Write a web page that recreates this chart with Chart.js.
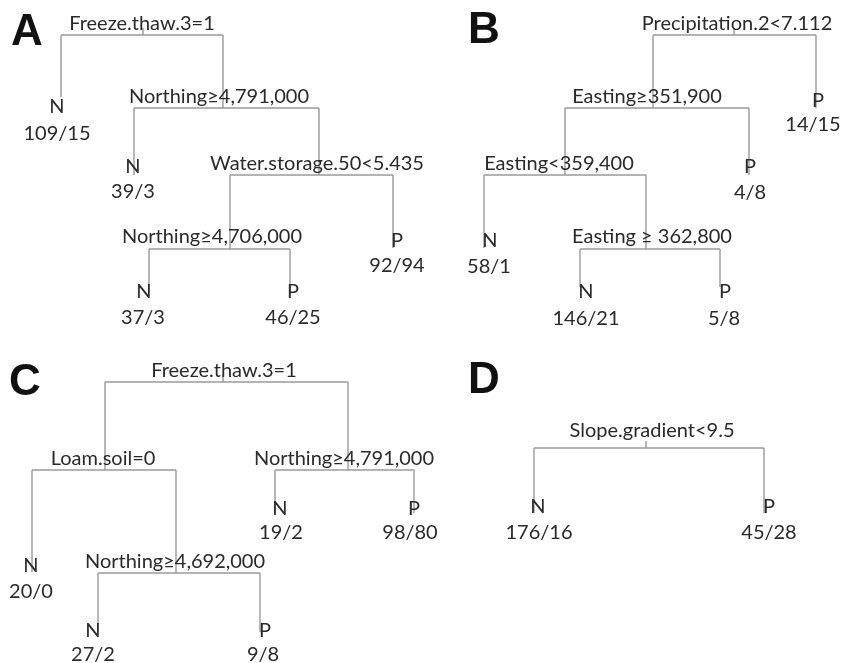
<!DOCTYPE html>
<html>
<head>
<meta charset="utf-8">
<script src="https://cdn.jsdelivr.net/npm/chart.js@4/dist/chart.umd.min.js"></script>
<style>
  html, body { margin: 0; padding: 0; background: #ffffff; }
  #wrap { width: 844px; height: 663px; }
</style>
</head>
<body>
<div id="wrap"><canvas id="c" width="844" height="663"></canvas></div>
<script>
// ---------------- DATA ----------------
const panelLetters = ['A', 'B', 'C', 'D'];

// Tree A
const splitsA = ['Freeze.thaw.3=1', 'Northing≥4,791,000', 'Water.storage.50<5.435', 'Northing≥4,706,000'];
const childrenA = [['l0', 's1'], ['l1', 's2'], ['s3', 'l4'], ['l2', 'l3']];
const leafClassA = ['N', 'N', 'N', 'P', 'P'];
const leafCountA = ['109/15', '39/3', '37/3', '46/25', '92/94'];

// Tree B
const splitsB = ['Precipitation.2<7.112', 'Easting≥351,900', 'Easting<359,400', 'Easting ≥ 362,800'];
const childrenB = [['s1', 'l4'], ['s2', 'l3'], ['l0', 's3'], ['l1', 'l2']];
const leafClassB = ['N', 'N', 'P', 'P', 'P'];
const leafCountB = ['58/1', '146/21', '5/8', '4/8', '14/15'];

// Tree C
const splitsC = ['Freeze.thaw.3=1', 'Loam.soil=0', 'Northing≥4,791,000', 'Northing≥4,692,000'];
const childrenC = [['s1', 's2'], ['l0', 's3'], ['l3', 'l4'], ['l1', 'l2']];
const leafClassC = ['N', 'N', 'P', 'N', 'P'];
const leafCountC = ['20/0', '27/2', '9/8', '19/2', '98/80'];

// Tree D
const splitsD = ['Slope.gradient<9.5'];
const childrenD = [['l0', 'l1']];
const leafClassD = ['N', 'P'];
const leafCountD = ['176/16', '45/28'];

// ---------------- LAYOUT (positions in canvas-sized data units) ----------------
// split: [labelX, labelBaseline, barY, leftX, rightX, stubX(root only)]
const splitPosA = [[142, 30, 35, 61, 223, 143], [219, 103, 108, 134, 319], [317, 170, 175, 230, 393], [212, 243, 249, 149, 290]];
const splitPosB = [[737, 30, 35, 653, 816, 734], [647, 103, 108, 565, 749], [559, 170, 175, 484, 646], [652, 243, 249, 580, 720]];
const splitPosC = [[224, 377, 382, 105, 348, 223], [103, 465, 470, 32, 176], [344, 465, 470, 275, 414], [175, 568, 573, 98, 260]];
const splitPosD = [[652, 437, 448, 534, 764, 646]];
// leaf: [lineEndY, classX, classBaseline, countX, countBaseline]
const leafPosA = [[97, 57, 113, 57, 140], [175, 133, 173, 133, 198], [293, 144, 298, 143, 324], [293, 293, 298, 293, 324], [248, 397, 247, 397, 272]];
const leafPosB = [[248, 490, 247, 489, 273], [287, 586, 298, 586, 325], [287, 725, 298, 724, 325], [175, 750, 173, 750, 199], [108, 818, 107, 813, 131]];
const leafPosC = [[572, 31, 572, 31, 598], [632, 93, 637, 93, 661], [632, 265, 637, 263, 661], [513, 280, 515, 281, 539], [513, 414, 515, 410, 539]];
const leafPosD = [[513, 538, 513, 539, 539], [513, 769, 513, 769, 539]];
// panel letter: [x, baseline]
const letterPos = [[11, 45], [468, 43], [9, 395], [468, 393]];

const LINE_COLOR = '#9a9a9a';
const TEXT_COLOR = '#2a2a2a';
const TREE_FONT = '20px Lato';
const LETTER_FONT = 'bold 44px "Liberation Sans"';

const trees = [
  { splits: splitsA, children: childrenA, cls: leafClassA, cnt: leafCountA, sp: splitPosA, lp: leafPosA },
  { splits: splitsB, children: childrenB, cls: leafClassB, cnt: leafCountB, sp: splitPosB, lp: leafPosB },
  { splits: splitsC, children: childrenC, cls: leafClassC, cnt: leafCountC, sp: splitPosC, lp: leafPosC },
  { splits: splitsD, children: childrenD, cls: leafClassD, cnt: leafCountD, sp: splitPosD, lp: leafPosD }
];

// Build line segments from the tree structure
const datasets = [];
function seg(x1, y1, x2, y2) {
  datasets.push({
    data: [{ x: x1, y: y1 }, { x: x2, y: y2 }],
    showLine: true, borderColor: LINE_COLOR, borderWidth: 1.4,
    pointRadius: 0, pointHoverRadius: 0, fill: false
  });
}
const texts = [];
trees.forEach(t => {
  t.splits.forEach((label, i) => {
    const p = t.sp[i];
    seg(p[3], p[2], p[4], p[2]);                 // horizontal bar
    if (p[5] !== undefined) seg(p[5], p[2] - 7, p[5], p[2]); // root stub
    t.children[i].forEach((ch, side) => {
      const x = side === 0 ? p[3] : p[4];
      const idx = parseInt(ch.slice(1), 10);
      const endY = ch[0] === 's' ? t.sp[idx][2] : t.lp[idx][0];
      seg(x, p[2], x, endY);
    });
    texts.push({ s: label, x: p[0], y: p[1], font: TREE_FONT, align: 'center' });
  });
  t.cls.forEach((c, i) => {
    const q = t.lp[i];
    texts.push({ s: c, x: q[1], y: q[2], font: TREE_FONT, align: 'center' });
    texts.push({ s: t.cnt[i], x: q[3], y: q[4], font: TREE_FONT, align: 'center' });
  });
});
panelLetters.forEach((L, i) => {
  texts.push({ s: L, x: letterPos[i][0], y: letterPos[i][1], font: LETTER_FONT, align: 'left', color: '#111' });
});

const textPlugin = {
  id: 'treeText',
  afterDatasetsDraw(chart) {
    const ctx = chart.ctx;
    const xs = chart.scales.x, ys = chart.scales.y;
    ctx.save();
    ctx.textBaseline = 'alphabetic';
    texts.forEach(t => {
      ctx.font = t.font;
      ctx.fillStyle = t.color || TEXT_COLOR;
      ctx.textAlign = t.align;
      ctx.fillText(t.s, xs.getPixelForValue(t.x), ys.getPixelForValue(t.y));
    });
    ctx.restore();
  }
};

new Chart(document.getElementById('c'), {
  type: 'scatter',
  data: { datasets },
  options: {
    responsive: false,
    animation: false,
    events: [],
    layout: { padding: 0 },
    scales: {
      x: { type: 'linear', min: 0, max: 844, display: false },
      y: { type: 'linear', min: 0, max: 663, reverse: true, display: false }
    },
    plugins: { legend: { display: false }, tooltip: { enabled: false } }
  },
  plugins: [textPlugin]
});
</script>
</body>
</html>
